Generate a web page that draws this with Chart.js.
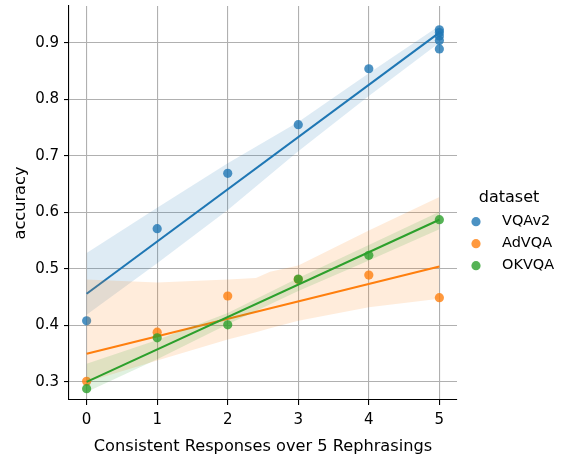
<!DOCTYPE html>
<html><head><meta charset="utf-8">
<script src="https://cdn.jsdelivr.net/npm/chart.js@4/dist/chart.umd.min.js"></script>
<style>html,body{margin:0;padding:0;background:#fff}#wrap{width:562px;height:460px;position:relative}</style>
</head><body><div id="wrap"><canvas id="c" width="562" height="460"></canvas></div>
<script>
// ---- data ----
const xTicks = [0, 1, 2, 3, 4, 5];
const yTicks = [0.3, 0.4, 0.5, 0.6, 0.7, 0.8, 0.9];
const seriesNames = ['VQAv2', 'AdVQA', 'OKVQA'];

const vqaX = [0, 1, 2, 3, 4, 5, 5, 5, 5, 5];
const vqaY = [0.408, 0.571, 0.669, 0.755, 0.854, 0.923, 0.918, 0.912, 0.904, 0.889];
const advqaX = [0, 1, 2, 3, 4, 5];
const advqaY = [0.301, 0.388, 0.452, 0.481, 0.489, 0.449];
const okvqaX = [0, 1, 2, 3, 4, 5];
const okvqaY = [0.288, 0.378, 0.401, 0.482, 0.524, 0.587];

const fitX = [0, 5];
const vqaFit = [0.456, 0.918];
const advqaFit = [0.350, 0.504];
const okvqaFit = [0.300, 0.587];

const vqaBandX = [0, 1, 2, 3, 4, 5];
const vqaUpper = [0.528, 0.608, 0.687, 0.760, 0.846, 0.930];
const vqaLower = [0.419, 0.510, 0.604, 0.708, 0.806, 0.900];
const advqaBandX = [0, 1, 2, 2.4, 2.6, 3, 4, 5];
const advqaUpper = [0.481, 0.476, 0.481, 0.484, 0.495, 0.506, 0.568, 0.627];
const advqaLower = [0.300, 0.338, 0.375, 0.388, 0.395, 0.408, 0.432, 0.447];
const okvqaBandX = [0, 1, 2, 3, 4, 5];
const okvqaUpper = [0.332, 0.374, 0.422, 0.484, 0.542, 0.601];
const okvqaLower = [0.282, 0.340, 0.402, 0.461, 0.515, 0.570];

// ---- styling ----
const rgb = [[31,119,180],[255,127,14],[44,160,44]];
const col = (i,a) => `rgba(${rgb[i][0]},${rgb[i][1]},${rgb[i][2]},${a})`;
const FONT = 'DejaVu Sans';
const zip = (xs, ys) => xs.map((x, i) => ({x: x, y: ys[i]}));

function scatterDs(i, xs, ys, order) {
  return {type:'scatter', label: seriesNames[i], data: zip(xs, ys), backgroundColor: col(i,0.8),
    borderWidth: 0, pointRadius: 4.6, pointHoverRadius: 4.6, order: order};
}
function lineDs(i, xs, ys, order) {
  return {type:'line', label: seriesNames[i] + ' fit', data: zip(xs, ys), borderColor: col(i,1),
    borderWidth: 2.1, pointRadius: 0, fill: false, order: order};
}
function bandDs(i, xs, up, lo, order) {
  return [
    {type:'line', label: seriesNames[i] + ' ci', data: zip(xs, up), borderWidth: 0, borderColor:'rgba(0,0,0,0)',
      pointRadius: 0, backgroundColor: col(i,0.15), fill: {target:'+1'}, order: order},
    {type:'line', label: seriesNames[i] + ' ci low', data: zip(xs, lo), borderWidth: 0, borderColor:'rgba(0,0,0,0)',
      pointRadius: 0, fill: false, order: order}
  ];
}

const datasets = [
  scatterDs(0, vqaX, vqaY, 9), lineDs(0, fitX, vqaFit, 8), ...bandDs(0, vqaBandX, vqaUpper, vqaLower, 10),
  scatterDs(1, advqaX, advqaY, 6), lineDs(1, fitX, advqaFit, 5), ...bandDs(1, advqaBandX, advqaUpper, advqaLower, 7),
  scatterDs(2, okvqaX, okvqaY, 3), lineDs(2, fitX, okvqaFit, 2), ...bandDs(2, okvqaBandX, okvqaUpper, okvqaLower, 4)
];

const legendPlugin = {
  id: 'customLegend',
  afterDraw(chart) {
    const ctx = chart.ctx;
    ctx.save();
    ctx.fillStyle = '#000';
    ctx.textBaseline = 'middle';
    ctx.textAlign = 'center';
    ctx.font = `16px "${FONT}"`;
    ctx.fillText('dataset', 509, 198);
    ctx.textAlign = 'left';
    ctx.font = `14.5px "${FONT}"`;
    seriesNames.forEach((n, i) => {
      const y = 221.7 + i * 22;
      ctx.beginPath();
      ctx.fillStyle = col(i, 0.8);
      ctx.arc(476, y, 4.6, 0, Math.PI * 2);
      ctx.fill();
      ctx.fillStyle = '#000';
      ctx.fillText(n, 502, y);
    });
    ctx.restore();
  }
};

new Chart(document.getElementById('c'), {
  data: {datasets: datasets},
  options: {
    responsive: false, animation: false,
    layout: {padding: {top: 6, right: 105, left: 0, bottom: 0}},
    plugins: {legend: {display: false}, tooltip: {enabled: false}},
    scales: {
      x: {type:'linear', min: -0.25, max: 5.25,
        afterBuildTicks: s => { s.ticks = xTicks.map(v => ({value: v})); },
        afterFit: s => { s.height = 60; s.paddingLeft = 0; s.paddingRight = 0; },
        grid: {color:'#b0b0b0', lineWidth: 1.1, tickColor:'#000', tickLength: 5, drawTicks: true},
        border: {color:'#000', width: 1.1},
        ticks: {color:'#000', font: {family: FONT, size: 15}, padding: 6, maxRotation: 0,
          callback: v => String(v)},
        title: {display: true, text: 'Consistent Responses over 5 Rephrasings', color:'#000',
          font: {family: FONT, size: 16.2}, padding: {top: 2, bottom: 3}}
      },
      y: {type:'linear', min: 0.268, max: 0.965,
        afterBuildTicks: s => { s.ticks = yTicks.map(v => ({value: v})); },
        afterFit: s => { s.width = 69; s.paddingTop = 0; s.paddingBottom = 0; },
        grid: {color:'#b0b0b0', lineWidth: 1.1, tickColor:'#000', tickLength: 5, drawTicks: true},
        border: {color:'#000', width: 1.1},
        ticks: {color:'#000', font: {family: FONT, size: 15}, padding: 5,
          callback: v => v.toFixed(1)},
        title: {display: true, text: 'accuracy', color:'#000',
          font: {family: FONT, size: 16.2}, padding: {top: 11, bottom: 0}}
      }
    }
  },
  plugins: [legendPlugin]
});
</script></body></html>
